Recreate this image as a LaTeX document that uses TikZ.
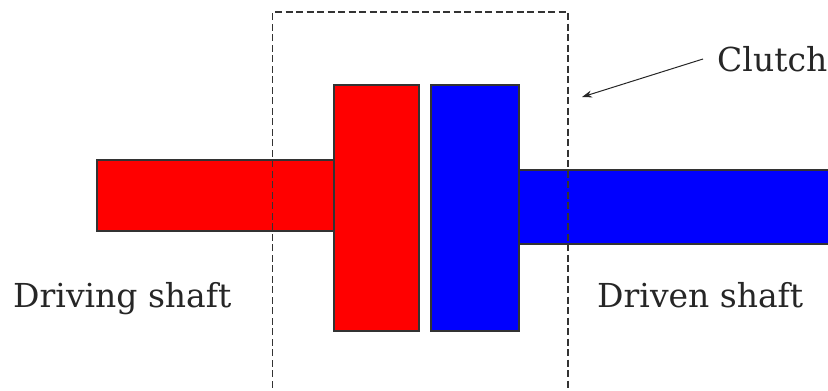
\documentclass[tikz,border=0pt]{standalone}
\usepackage{fontspec}
\setmainfont{DejaVu Serif}
\usetikzlibrary{arrows.meta}
\begin{document}
\begin{tikzpicture}[x=1pt,y=-1pt,
  part/.style={draw=black!80,line width=1.5pt},
  frame/.style={draw=black!80,line width=1.3pt,dash pattern=on 7pt off 3.5pt},
  lbl/.style={font=\fontsize{33}{38}\selectfont,text=black!85,inner sep=0pt}]
\useasboundingbox (0,0) rectangle (828,391);
\path[part,fill=red] (97,160) rectangle (334,231);
\path[part,fill=red] (334,85) rectangle (419,331);
\path[part,fill=blue] (431,85) rectangle (519,331);
\path[part,fill=blue] (519,170) rectangle (830,244);
\draw[frame] (272.5,398) -- (272.5,12) -- (568,12) -- (568,398);
\node[lbl,anchor=base west] (clutch) at (717,71) {Clutch};
\coordinate (tip) at (582,97);
\draw[black!85,line width=1pt,-{Stealth[length=10pt,width=7pt]}] (703,59) -- (tip);
\node[lbl,anchor=base west] (driving) at (13,307) {Driving shaft};
\node[lbl,anchor=base west] (driven) at (597,307) {Driven shaft};
\end{tikzpicture}
\end{document}
